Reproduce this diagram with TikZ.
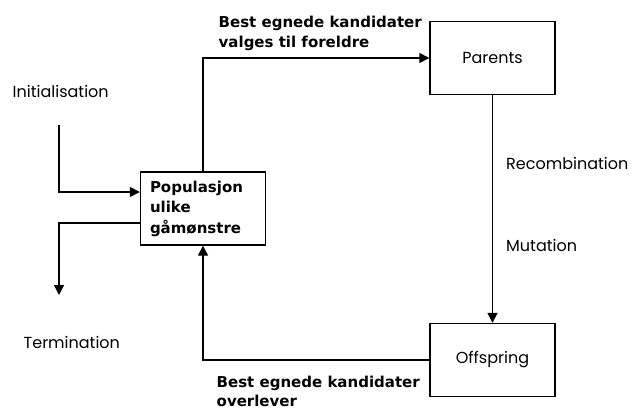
\documentclass[tikz,border=0pt]{standalone}
\usepackage{fontspec}
\setmainfont{Poppins}
\newfontfamily\lblfont{DejaVu Sans}
\usetikzlibrary{arrows.meta,positioning}
\tikzset{
  box/.style={draw,line width=1.4pt,minimum width=125pt,minimum height=73pt,inner sep=0pt,font=\fontsize{16}{19}\selectfont},
  txt/.style={font=\fontsize{16}{19}\selectfont,inner sep=0pt},
  btxt/.style={font=\lblfont\bfseries\fontsize{15}{19.5}\selectfont,align=left,inner sep=0pt},
  >={Triangle[length=10pt,width=10pt]}
}
\begin{document}
\begin{tikzpicture}[x=1pt,y=-1pt,line width=1.4pt]
    \useasboundingbox (0,0) rectangle (639,410);
    \node[box,btxt,font=\lblfont\bfseries\fontsize{15}{20.5}\selectfont,text width=106pt] (pop) at (203,208.5) {Populasjon\\ ulike\\ gåmønstre};
    \node[box] (par) at (492.5,58) {Parents};
    \node[box] (off) at (492.5,360) {Offspring};
    \coordinate (init) at (59,125);
    \coordinate (term) at (59,295);
    \node[txt,anchor=west] (initlbl) at (12,91) {Initialisation};
    \node[txt,anchor=west] (termlbl) at (23,342) {Termination};
    \draw[->] (init) |- ([yshift=16.5pt]pop.west);
    \draw[->] ([yshift=-14.5pt]pop.west) -| (term);
    \draw[->] (pop.north) |- (par.west)
      node[pos=0.5,btxt,anchor=south west,xshift=15pt,yshift=7pt] {Best egnede kandidater\\ valges til foreldre};
    \draw[->] (par) -- (off)
      node[pos=0.3,txt,right=13pt] {Recombination}
      node[pos=0.66,txt,right=13pt] {Mutation};
    \draw[->] (off.west) -| (pop.south)
      node[pos=0.5,btxt,anchor=north west,xshift=13pt,yshift=-15pt] {Best egnede kandidater\\ overlever};
  \end{tikzpicture}
\end{document}
